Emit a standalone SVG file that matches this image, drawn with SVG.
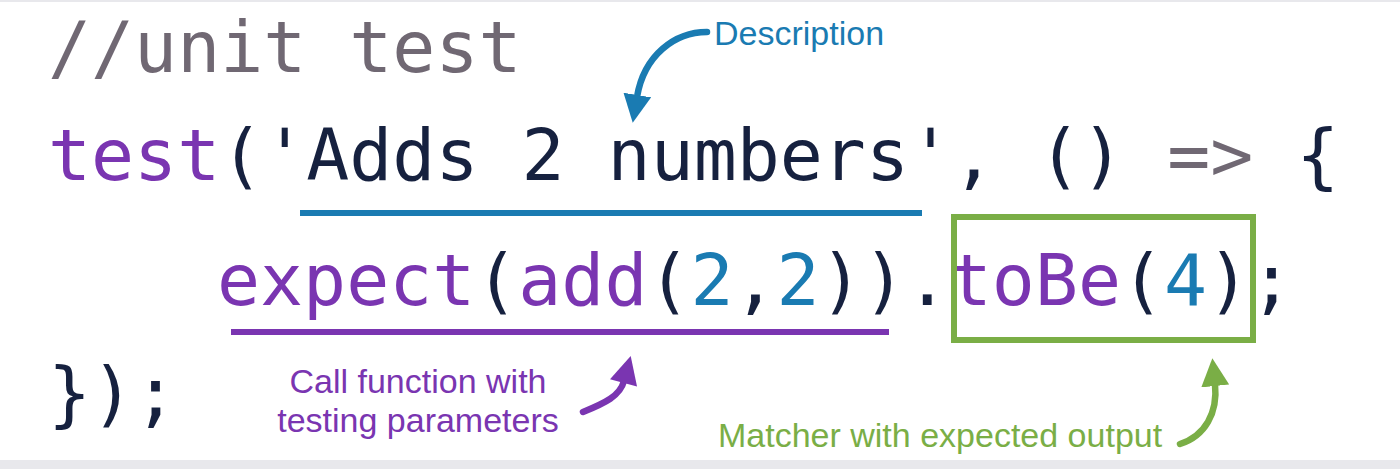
<svg xmlns="http://www.w3.org/2000/svg" width="1400" height="469" viewBox="0 0 1400 469">
<style>
.code{font-family:"DejaVu Sans Mono","Liberation Mono",monospace;font-size:71.5px;}
.ann{font-family:"Liberation Sans",Arial,sans-serif;font-size:34px;}
.pu{fill:#7a35b1}.nv{fill:#16213f}.gy{fill:#706873}.bl{fill:#1a7bb2}.gr{fill:#7aae46}
.conn{fill:none;stroke-width:6.5;stroke-linecap:round}
</style>
<defs>
<marker id="ah-blue" markerUnits="userSpaceOnUse" viewBox="0 0 28 28" markerWidth="28" markerHeight="28" refX="2" refY="14" orient="auto"><path d="M0,0 L28,14 L0,28 Z" fill="#1a7bb2"/></marker>
<marker id="ah-purple" markerUnits="userSpaceOnUse" viewBox="0 0 28 28" markerWidth="30" markerHeight="28" refX="2" refY="14" orient="auto"><path d="M0,0 L28,14 L0,28 Z" fill="#7a35b1"/></marker>
<marker id="ah-green" markerUnits="userSpaceOnUse" viewBox="0 0 28 28" markerWidth="28" markerHeight="28" refX="2" refY="14" orient="auto"><path d="M0,0 L28,14 L0,28 Z" fill="#7aae46"/></marker>
</defs>
<rect x="0" y="0" width="1400" height="469" fill="#ffffff"/>
<rect x="0" y="0" width="1400" height="2" fill="#e8e8ec"/>
<rect x="0" y="460" width="1400" height="9" fill="#e8e8ec"/>

<g id="code-line-1">
<text class="code gy" x="48" y="72">//unit test</text>
</g>
<g id="code-line-2">
<text class="code nv" x="48" y="180"><tspan class="pu">test</tspan>('Adds 2 numbers', () <tspan class="gy">=&gt;</tspan> {</text>
</g>
<g id="code-line-3">
<text class="code nv" x="217" y="305"><tspan class="pu">expect</tspan>(<tspan class="pu">add</tspan>(<tspan class="bl">2</tspan>,<tspan class="bl">2</tspan>)).<tspan class="pu">toBe</tspan>(<tspan class="bl">4</tspan>);</text>
</g>
<g id="code-line-4">
<text class="code nv" x="48" y="418">});</text>
</g>

<g id="description">
<line x1="300" y1="213" x2="922" y2="213" stroke="#1a7bb2" stroke-width="6"/>
<text class="ann bl" x="714" y="45">Description</text>
</g>
<g id="call-function">
<line x1="231" y1="332" x2="889" y2="332" stroke="#7a35b1" stroke-width="6"/>
<text class="ann pu" text-anchor="middle" x="418" y="393">Call function with</text>
<text class="ann pu" text-anchor="middle" x="418" y="432">testing parameters</text>
</g>
<g id="matcher">
<rect x="954" y="217" width="299" height="123" fill="none" stroke="#7aae46" stroke-width="6"/>
<text class="ann gr" x="718" y="447">Matcher with expected output</text>
</g>

<g id="connectors">
<path class="conn" stroke="#1a7bb2" d="M707,32 C675,32 644,55 637,97" marker-end="url(#ah-blue)"/>
<path class="conn" stroke="#7a35b1" d="M583,412 C605,403 620,396 624,381" marker-end="url(#ah-purple)"/>
<path class="conn" stroke="#7aae46" d="M1180,444 C1205,436 1218,413 1215,384" marker-end="url(#ah-green)"/>
</g>
</svg>
